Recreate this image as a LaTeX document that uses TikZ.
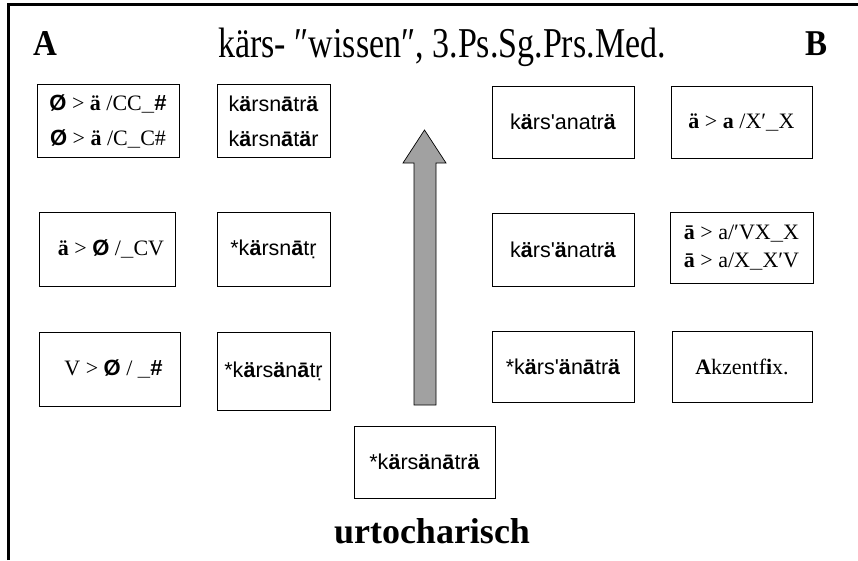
\documentclass[tikz,border=0pt]{standalone}
\usepackage{fontspec}
\setmainfont{Liberation Serif}
\setsansfont{Liberation Sans}
\newcommand{\vb}[1]{\textbf{#1}}
\newcommand{\nul}{\textsf{\textbf{Ø}}}
\newcommand{\gap}{\textsf{\textbf{\_}}}
\newcommand{\apo}{\textquotesingle}
\newcommand{\tall}[1]{\scalebox{1}[1.25]{#1}}
\begin{document}
\begin{tikzpicture}[x=1pt, y=-1pt,
  form/.style = {draw, line width=0.7pt, inner sep=0pt, align=center,
    font=\sffamily\fontsize{21.5}{35}\selectfont},
  rule/.style = {form, font=\rmfamily\fontsize{22}{35}\selectfont}]
  \useasboundingbox (0,0) rectangle (858,560);
  \draw[line width=3pt] (8,560) -- (8,4.5) -- (858,4.5);
  % header
  \node[anchor=base, font=\bfseries\fontsize{33}{33}\selectfont] (lblA) at (45,55) {\scalebox{1}[1.1]{A}};
  \node[anchor=base, font=\fontsize{34}{34}\selectfont] (title) at (442,57) {\tall{kärs- ″wissen″, 3.Ps.Sg.Prs.Med.}};
  \node[anchor=base, font=\bfseries\fontsize{33}{33}\selectfont] (lblB) at (816,55) {\scalebox{1}[1.1]{B}};
  % A side
  \node[rule, minimum width=142, minimum height=73] (ruleA1) at (108,121)
    {\nul{} > \vb{ä} /CC\gap\textsf{\textbf{\#}}\\ \nul{} > \vb{ä} /C\gap C\#};
  \node[rule, minimum width=136, minimum height=74] (ruleA2) at (107,249)
    {\hspace{8pt}\vb{ä} > \nul{} /\gap CV};
  \node[rule, minimum width=141, minimum height=74] (ruleA3) at (109.5,369)
    {\hspace{8pt}V > \nul{} / \gap\textsf{\textbf{\#}}};
  \node[form, minimum width=113, minimum height=73] (formA1) at (273.5,121)
    {k\vb{ä}rsn\vb{ā}tr\vb{ä}\\ k\vb{ä}rsn\vb{ā}t\vb{ä}r};
  \node[form, minimum width=113, minimum height=74] (formA2) at (273.5,249)
    {*k\vb{ä}rsn\vb{ā}tṛ};
  \node[form, minimum width=113, minimum height=78] (formA3) at (273.5,371)
    {*k\vb{ä}rs\vb{ä}n\vb{ā}tṛ};
  % B side
  \node[form, minimum width=142, minimum height=72] (formB1) at (563,122)
    {k\vb{ä}rs\apo anatr\vb{ä}};
  \node[form, minimum width=142, minimum height=73] (formB2) at (563,249.5)
    {k\vb{ä}rs\apo\vb{ä}natr\vb{ä}};
  \node[form, minimum width=142, minimum height=71] (formB3) at (563,366.5)
    {*k\vb{ä}rs\apo\vb{ä}n\vb{ā}tr\vb{ä}};
  \node[rule, minimum width=141, minimum height=72] (ruleB1) at (741.5,122)
    {\vb{ä} > \vb{a} /X′\gap X};
  \node[rule, minimum width=143, minimum height=71,
    font=\rmfamily\fontsize{22}{28}\selectfont] (ruleB2) at (741.5,247.5)
    {\vb{ā} > a/′VX\gap X\\ \vb{ā} > a/X\gap X′V};
  \node[rule, minimum width=140, minimum height=71] (ruleB3) at (742,366.5)
    {\vb{A}kzentf\vb{i}x.};
  % source form
  \node[form, minimum width=141, minimum height=72] (proto) at (424.5,462)
    {*k\vb{ä}rs\vb{ä}n\vb{ā}tr\vb{ä}};
  \node[anchor=base, font=\bfseries\fontsize{36}{36}\selectfont] (lang) at (432,543) {urtocharisch};
  % arrow
  \draw[line width=0.7pt, fill=black!37] (414,405) -- (414,163) -- (403,163) -- (424.5,130)
    -- (446,163) -- (436,163) -- (436,405) -- cycle;
\end{tikzpicture}
\end{document}
